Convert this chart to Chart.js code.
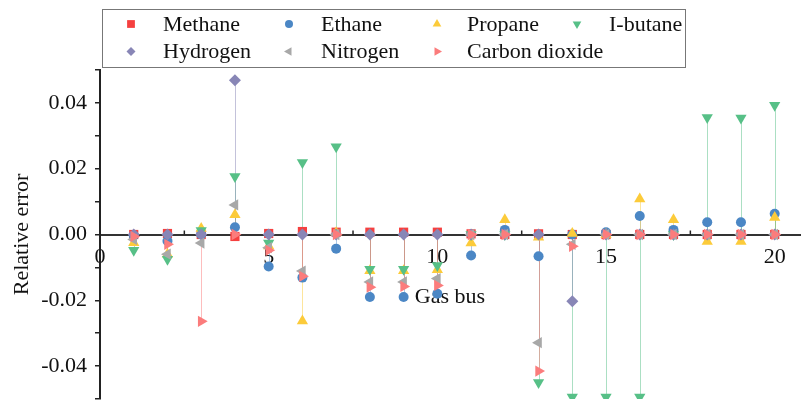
<!DOCTYPE html>
<html>
<head>
<meta charset="utf-8">
<script src="https://cdn.jsdelivr.net/npm/chart.js@4.4.1/dist/chart.umd.min.js"></script>
<style>
  html, body { margin: 0; padding: 0; background: #fff; }
  #wrap { width: 802px; height: 401px; }
</style>
</head>
<body>
<div id="wrap"><canvas id="chart" width="802" height="401"></canvas></div>
<script>
// gas bus numbers
const buses = [1, 2, 3, 4, 5, 6, 7, 8, 9, 10, 11, 12, 13, 14, 15, 16, 17, 18, 19, 20];

// relative error per component
const methane  = [0, 0.0003, 0, -0.0006, 0.0003, 0.0009, 0.0007, 0.0007, 0.0007, 0.0007, 0.0002, 0, 0.0002, 0, 0, 0, 0, 0, 0, 0];
const ethane   = [-0.0003, -0.002, 0, 0.0022, -0.0097, -0.0131, -0.0043, -0.019, -0.019, -0.018, -0.0064, 0.0014, -0.0066, 0, 0.0007, 0.0056, 0.0014, 0.0037, 0.0037, 0.0063];
const propane  = [-0.0025, -0.006, 0.0018, 0.006, -0.0035, -0.0263, 0.0005, -0.011, -0.011, -0.0107, -0.0026, 0.0045, -0.0008, 0.0003, 0, 0.0108, 0.0045, -0.0021, -0.0021, 0.0052];
const ibutane  = [-0.0048, -0.0075, 0.0012, 0.0176, -0.0026, 0.0219, 0.0267, -0.0106, -0.0106, -0.0094, 0, 0, -0.045, -0.0494, -0.0494, -0.0494, 0, 0.0356, 0.0354, 0.0393];
const hydrogen = [0, 0, 0, 0.0469, 0, 0, 0, 0, 0, 0, 0, 0, 0, -0.0203, 0, 0, 0, 0, 0, 0];
const nitrogen = [-0.0015, -0.006, -0.0026, 0.009, -0.004, -0.0111, 0, -0.0144, -0.0144, -0.0134, 0, 0, -0.0329, -0.003, 0, 0, 0, 0, 0, 0];
const co2      = [-0.0006, -0.003, -0.0264, 0, -0.0048, -0.0127, 0, -0.016, -0.0158, -0.0155, 0, 0, -0.0415, -0.0036, 0, 0, 0, 0, 0, 0];

const xMinorTicks = [2.5, 7.5, 12.5, 17.5];

const FONT = "'Liberation Serif', 'Times New Roman', serif";

const series = [
  { label: 'Methane',        data: methane,  color: '#f5403f', line: 'rgba(245,64,63,0.45)',   style: 'rect',     rot: 0,   r: 6.5, lr: 5.5 },
  { label: 'Ethane',         data: ethane,   color: '#4b87c5', line: 'rgba(75,135,197,0.45)',  style: 'circle',   rot: 0,   r: 5,   lr: 4 },
  { label: 'Propane',        data: propane,  color: '#fccb3a', line: 'rgba(252,203,58,0.5)',   style: 'triangle', rot: 0,   r: 6.5, lr: 5 },
  { label: 'I-butane',       data: ibutane,  color: '#57c087', line: 'rgba(87,192,135,0.5)',   style: 'triangle', rot: 180, r: 6.5, lr: 5 },
  { label: 'Hydrogen',       data: hydrogen, color: '#8886b6', line: 'rgba(136,134,182,0.5)',  style: 'rectRot',  rot: 0,   r: 6,   lr: 4.5 },
  { label: 'Nitrogen',       data: nitrogen, color: '#a8a8a8', line: 'rgba(168,168,168,0.5)',  style: 'triangle', rot: 270, r: 6.5, lr: 5 },
  { label: 'Carbon dioxide', data: co2,      color: '#fb7c7c', line: 'rgba(251,124,124,0.5)',  style: 'triangle', rot: 90,  r: 6.5, lr: 5 },
];

// vertical drop lines from 0 to each point
const dropLines = {
  id: 'dropLines',
  beforeDatasetsDraw(chart) {
    const ctx = chart.ctx;
    const y0 = chart.scales.y.getPixelForValue(0);
    ctx.save();
    ctx.lineWidth = 1;
    chart.data.datasets.forEach((ds, i) => {
      const meta = chart.getDatasetMeta(i);
      ctx.strokeStyle = ds.dropColor;
      meta.data.forEach(pt => {
        ctx.beginPath();
        ctx.moveTo(Math.round(pt.x) + 0.5, y0);
        ctx.lineTo(Math.round(pt.x) + 0.5, pt.y);
        ctx.stroke();
      });
    });
    ctx.restore();
  }
};

// minor ticks on the x axis (pointing up)
const minorTicks = {
  id: 'minorTicks',
  afterDraw(chart) {
    const ctx = chart.ctx;
    const xs = chart.scales.x;
    const y0 = chart.scales.y.getPixelForValue(0);
    ctx.save();
    ctx.strokeStyle = '#222';
    ctx.lineWidth = 1.5;
    xMinorTicks.forEach(v => {
      const px = xs.getPixelForValue(v);
      ctx.beginPath();
      ctx.moveTo(px, y0);
      ctx.lineTo(px, y0 - 4);
      ctx.stroke();
    });
    ctx.restore();
  }
};

// boxed legend laid out in columns
const boxLegend = {
  id: 'boxLegend',
  afterDraw(chart) {
    const ctx = chart.ctx;
    const markX = [131, 289, 437, 577];
    const textX = [163, 321, 467, 609];
    const rowY = [24, 51.5];
    ctx.save();
    ctx.fillStyle = '#fff';
    ctx.fillRect(102, 9, 583, 58);
    ctx.strokeStyle = '#777';
    ctx.lineWidth = 1;
    ctx.strokeRect(102.5, 9.5, 583, 58);
    ctx.font = '22px ' + FONT;
    ctx.textBaseline = 'middle';
    chart.data.datasets.forEach((ds, i) => {
      const col = i < 4 ? i : i - 4;
      const row = i < 4 ? 0 : 1;
      const s = series[i];
      ctx.fillStyle = s.color;
      ctx.strokeStyle = s.color;
      Chart.helpers.drawPoint(ctx, { pointStyle: s.style, radius: s.lr, rotation: s.rot, borderWidth: 0 }, markX[col], rowY[row]);
      ctx.fillStyle = '#111';
      ctx.fillText(ds.label, textX[col], rowY[row] + 1);
    });
    ctx.restore();
  }
};

new Chart(document.getElementById('chart'), {
  type: 'scatter',
  data: {
    datasets: series.map((s, i) => ({
      label: s.label,
      data: buses.map((b, j) => ({ x: b, y: s.data[j] })),
      backgroundColor: s.color,
      borderColor: s.color,
      borderWidth: 0,
      pointStyle: s.style,
      rotation: s.rot,
      pointRadius: s.r,
      pointHoverRadius: s.r,
      dropColor: s.line,
      order: -i,   // later series on top
    }))
  },
  options: {
    responsive: false,
    animation: false,
    layout: { autoPadding: false, padding: { top: 70, bottom: 2, left: 0, right: 2 } },
    plugins: {
      legend: { display: false },
      tooltip: { enabled: false },
    },
    scales: {
      x: {
        type: 'linear',
        position: { y: 0 },
        min: 0,
        max: 20.75,
        grid: { display: false, drawTicks: false },
        border: { display: true, color: '#333', width: 2 },
        ticks: {
          stepSize: 5,
          includeBounds: false,
          padding: 10,
          color: '#111',
          font: { family: FONT, size: 22 },
          callback: v => String(v),
        },
        title: {
          display: true,
          text: 'Gas bus',
          color: '#111',
          font: { family: FONT, size: 22 },
          padding: { top: 3, bottom: 0 },
        },
      },
      y: {
        type: 'linear',
        position: 'left',
        min: -0.05,
        max: 0.05,
        afterFit: s => { s.width = 100; s.paddingTop = 0; s.paddingBottom = 0; },
        grid: { display: true, drawOnChartArea: false, drawTicks: true, tickLength: 5, color: '#222', lineWidth: 1.5 },
        border: { display: true, color: '#222', width: 2 },
        ticks: {
          stepSize: 0.01,
          padding: 8,
          color: '#111',
          font: { family: FONT, size: 22 },
          callback: v => {
            const n = Math.round(v * 100);
            if (n % 2 !== 0) return '';
            return n === 0 ? '0.00' : (n / 100).toFixed(2);
          },
        },
        title: {
          display: true,
          text: 'Relative error',
          color: '#111',
          font: { family: FONT, size: 22 },
          padding: { top: 9, bottom: 0 },
        },
      },
    },
  },
  plugins: [dropLines, minorTicks, boxLegend],
});
</script>
</body>
</html>
